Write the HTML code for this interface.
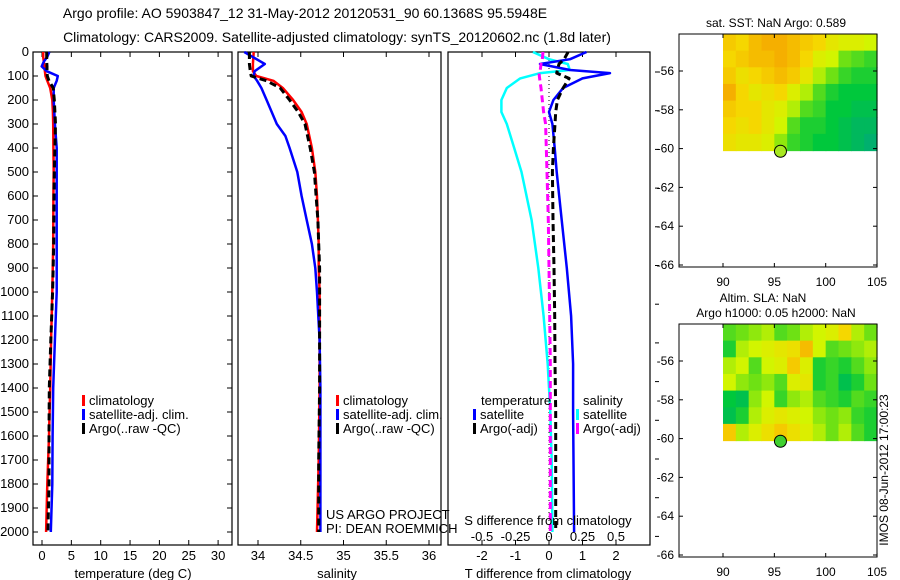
<!DOCTYPE html>
<html><head><meta charset="utf-8">
<style>
html,body{margin:0;padding:0;background:#fff;}
svg{display:block;font-family:"Liberation Sans",sans-serif;}
text{fill:#000;}
</style></head>
<body>
<svg id="fig" width="900" height="580" viewBox="0 0 900 580" xmlns="http://www.w3.org/2000/svg">
<text x="305" y="18" font-size="14" text-anchor="middle">Argo profile: AO 5903847_12 31-May-2012 20120531_90 60.1368S 95.5948E</text>
<text x="337" y="42" font-size="14" text-anchor="middle">Climatology: CARS2009. Satellite-adjusted climatology: synTS_20120602.nc (1.8d later)</text>
<g id="layer"></g>
</svg>
<script>
// ---- data ----
const tDepth = [0,20,40,60,80,100,120,150,200,250,300,400,500,600,800,1000,1200,1400,1600,1800,2000];
const tempClim = [0.2,0.2,0.3,0.4,0.5,0.6,0.9,1.4,1.75,1.85,1.9,1.95,2.0,1.95,1.9,1.75,1.55,1.4,1.2,0.9,0.7];
const tempSat = [1.25,0.9,0.3,-0.05,0.8,2.7,2.5,2.0,2.0,2.1,2.2,2.5,2.5,2.5,2.5,2.5,2.2,1.9,1.8,1.75,1.5];
const tempArgo = [0.8,0.8,0.8,0.85,0.85,0.9,1.2,1.9,2.1,2.2,2.3,2.2,2.1,2.05,2.0,1.8,1.5,1.25,1.2,1.2,1.0];
const sDepth = [0,50,80,100,120,150,200,250,300,350,400,500,600,700,800,900,1000,1200,1400,1700,2000];
const salClim = [33.95,33.94,33.94,33.98,34.18,34.29,34.41,34.51,34.57,34.60,34.63,34.67,34.69,34.70,34.71,34.71,34.72,34.72,34.72,34.71,34.69];
const salSat = [33.84,34.08,33.96,33.95,33.99,34.04,34.10,34.16,34.22,34.32,34.37,34.46,34.51,34.57,34.63,34.67,34.69,34.72,34.73,34.73,34.73];
const salArgo = [33.9,33.9,33.91,33.92,34.1,34.26,34.37,34.47,34.55,34.58,34.61,34.66,34.68,34.70,34.71,34.72,34.72,34.72,34.72,34.71,34.71];
const dDepth = [0,30,50,75,88,110,150,200,250,300,400,500,700,900,1100,1300,1500,1700,2000];
const dTSat = [1.12,0.63,-0.27,0.63,1.82,1.0,0.42,0.13,0.0,0.1,0.17,0.23,0.38,0.53,0.66,0.72,0.72,0.73,0.75];
const dTArgo = [0.57,0.45,0.3,0.25,0.23,0.6,0.42,0.25,0.2,0.18,0.13,0.1,0.12,0.15,0.17,0.18,0.2,0.2,0.2];
const dSSat = [-0.12,0.0,0.14,0.155,-0.065,-0.215,-0.315,-0.355,-0.355,-0.315,-0.26,-0.205,-0.13,-0.08,-0.04,-0.01,0.01,0.02,0.025];
const dSArgo = [-0.045,-0.05,-0.06,-0.065,-0.075,-0.07,-0.06,-0.05,-0.04,-0.025,-0.02,-0.015,-0.005,0.0,0.005,0.01,0.01,0.01,0.01];
const depthTicks = [0,100,200,300,400,500,600,700,800,900,1000,1100,1200,1300,1400,1500,1600,1700,1800,1900,2000];
const tempTicks = [0,5,10,15,20,25,30];
const salTicks = [34,34.5,35,35.5,36];
const dTTicks = [-2,-1,0,1,2];
const dSTicks = [-0.5,-0.25,0,0.25,0.5];
const latTicks = [-56,-58,-60,-62,-64,-66];
const lonTicks = [90,95,100,105];
const sstGrid = [
[.75,.7,.8,.85,.85,.8,.75,.7,.6,.55,.55,.5],
[.7,.75,.8,.8,.85,.8,.7,.55,.5,.35,.3,.25],
[.75,.65,.7,.75,.8,.75,.6,.45,.35,.25,.2,.2],
[.85,.7,.6,.65,.7,.55,.45,.3,.2,.15,.15,.15],
[.75,.7,.7,.6,.55,.45,.3,.25,.15,.15,.1,.1],
[.7,.65,.7,.6,.5,.3,.2,.2,.15,.1,.05,.05],
[.65,.6,.6,.55,.4,.25,.2,.15,.15,.1,.05,0]];
const slaGrid = [
[.3,.35,.4,.45,.3,.35,.45,.5,.55,.7,.45,.35],
[.2,.45,.5,.55,.6,.65,.8,.5,.3,.35,.4,.45],
[.45,.5,.3,.5,.55,.75,.55,.2,.25,.2,.3,.4],
[.5,.4,.35,.4,.3,.55,.6,.2,.25,.1,.2,.35],
[.15,.1,.4,.5,.25,.4,.45,.3,.25,.2,.3,.25],
[.1,.2,.45,.55,.6,.55,.5,.4,.35,.4,.25,.2],
[.75,.45,.55,.65,.75,.65,.55,.45,.35,.45,.3,.2]];
const argoLon = 95.5948, argoLat = -60.1368;

// ---- helpers ----
const NS="http://www.w3.org/2000/svg";
const L=document.getElementById('layer');
function mk(tag,attrs,txt){const e=document.createElementNS(NS,tag);for(const k in attrs)e.setAttribute(k,attrs[k]);if(txt!==undefined)e.textContent=txt;L.appendChild(e);return e;}
const FS=13;
const yD = d => 52 + 0.24*d;
const xT = t => 42 + 5.87*t;
const xS = s => 258 + 85.5*(s-34);
const xDT = v => 549 + 33.5*v;
const xDS = v => 549 + 134*v;

function frame(x0,x1,name){
  const r=mk('rect',{x:x0,y:52,width:x1-x0,height:493,fill:'none',stroke:'#000','stroke-width':1.2});
  
  
}
function series(xs,ds,xf,color,w,dash,name){
  const pts=xs.map((v,i)=>xf(v).toFixed(1)+','+yD(ds[i]).toFixed(1)).join(' ');
  const a={points:pts,fill:'none',stroke:color,'stroke-width':w,'stroke-linejoin':'round'};
  if(dash)a['stroke-dasharray']=dash;
  const p=mk('polyline',a);
  
  
}
function xticks(vals,xf,yLab,name){
  vals.forEach(v=>{
    const x=xf(v);
    mk('line',{x1:x,x2:x,y1:52,y2:57,stroke:'#000'});
    mk('line',{x1:x,x2:x,y1:545,y2:540,stroke:'#000'});
    const t=mk('text',{x:x,y:yLab,'font-size':FS,'text-anchor':'middle'},String(v));
    
    
  });
}
function legendRow(x,y,color,label,name){
  const r=mk('rect',{x:x,y:y-10,width:3,height:11,fill:color});
  
  
  const t=mk('text',{x:x+7,y:y,'font-size':FS},label);
  
  
}

// ---- panel 1: temperature ----
frame(33,232,'temperature-panel');
depthTicks.forEach(d=>{
  const y=yD(d);
  mk('line',{x1:33,x2:38,y1:y,y2:y,stroke:'#000'});
  mk('line',{x1:232,x2:227,y1:y,y2:y,stroke:'#000'});
  const t=mk('text',{x:29,y:y+4,'font-size':FS,'text-anchor':'end'},String(d));
  
  
});
xticks(tempTicks,xT,560,'temperature');
series(tempClim,tDepth,xT,'#ff0000',2.5,null,'temperature-climatology-line');
series(tempSat,tDepth,xT,'#0000ff',2.5,null,'temperature-satellite-line');
series(tempArgo,tDepth,xT,'#000',3,'7,4','temperature-argo-line');
let t1=mk('text',{x:133,y:578,'font-size':FS,'text-anchor':'middle'},'temperature (deg C)');


legendRow(82,405,'#ff0000','climatology','temp-legend-climatology');
legendRow(82,419,'#0000ff','satellite-adj. clim.','temp-legend-satellite');
legendRow(82,433,'#000','Argo(..raw -QC)','temp-legend-argo');

// ---- panel 2: salinity ----
frame(238,441,'salinity-panel');
xticks(salTicks,xS,560,'salinity');
series(salClim,sDepth,xS,'#ff0000',2.5,null,'salinity-climatology-line');
series(salSat,sDepth,xS,'#0000ff',2.5,null,'salinity-satellite-line');
series(salArgo,sDepth,xS,'#000',3,'7,4','salinity-argo-line');
let t2=mk('text',{x:337,y:578,'font-size':FS,'text-anchor':'middle'},'salinity');


legendRow(336,405,'#ff0000','climatology','sal-legend-climatology');
legendRow(336,419,'#0000ff','satellite-adj. clim.','sal-legend-satellite');
legendRow(336,433,'#000','Argo(..raw -QC)','sal-legend-argo');
let u1=mk('text',{x:326,y:519,'font-size':FS},'US ARGO PROJECT');


let u2=mk('text',{x:326,y:533,'font-size':FS},'PI: DEAN ROEMMICH');



// ---- panel 3: differences ----
frame(448,650,'difference-panel');
xticks(dTTicks,xDT,560,'t-difference');
dSTicks.forEach(v=>{
  const t=mk('text',{x:xDS(v),y:541,'font-size':FS,'text-anchor':'middle'},String(v));
  
  
});
let zl=mk('line',{x1:xDT(0),x2:xDT(0),y1:52,y2:545,stroke:'#000','stroke-width':1,'stroke-dasharray':'1,3'});


series(dSSat,dDepth,xDS,'#00ffff',2.5,null,'s-diff-satellite-line');
series(dTSat,dDepth,xDT,'#0000ff',2.5,null,'t-diff-satellite-line');
series(dSArgo,dDepth,xDS,'#ff00ff',3,'7,4','s-diff-argo-line');
series(dTArgo,dDepth,xDT,'#000',3,'7,4','t-diff-argo-line');
let t3=mk('text',{x:548,y:525,'font-size':FS,'text-anchor':'middle'},'S difference from climatology');


let t4=mk('text',{x:548,y:578,'font-size':FS,'text-anchor':'middle'},'T difference from climatology');


let lh1=mk('text',{x:481,y:405,'font-size':FS},'temperature');


let lh2=mk('text',{x:583,y:405,'font-size':FS},'salinity');


legendRow(473,419,'#0000ff','satellite','diff-legend-t-satellite');
legendRow(473,433,'#000','Argo(-adj)','diff-legend-t-argo');
legendRow(576,419,'#00ffff','satellite','diff-legend-s-satellite');
legendRow(576,433,'#ff00ff','Argo(-adj)','diff-legend-s-argo');
for(let y=72;y<560;y+=38.7){mk('line',{x1:655,x2:659,y1:y,y2:y,stroke:'#000'});}

// ---- maps ----
function cmap(v){
  const stops=[[0,[0,176,110]],[0.15,[0,200,60]],[0.35,[110,225,20]],[0.5,[210,245,0]],[0.7,[245,215,0]],[0.85,[245,175,0]],[1,[240,120,0]]];
  for(let i=1;i<stops.length;i++){
    if(v<=stops[i][0]){const a=stops[i-1],b=stops[i];const f=(v-a[0])/(b[0]-a[0]);
      const c=a[1].map((x,k)=>Math.round(x+(b[1][k]-x)*f));return 'rgb('+c.join(',')+')';}
  }
  return 'rgb(240,120,0)';
}
function map(top,grid,dotColor,name){
  const xL = lon => 723 + (lon-90)*10.27;
  const yL = lat => top + 37 + (-56-lat)*19.4;
  const x0=xL(90), x1=877, y0=top, y1=yL(-60.1);
  const nr=grid.length, nc=grid[0].length, cw=(x1-x0)/nc, ch=(y1-y0)/nr;
  grid.forEach((row,r)=>row.forEach((v,c)=>{
    const cell=mk('rect',{x:(x0+c*cw).toFixed(2),y:(y0+r*ch).toFixed(2),width:(cw+0.6).toFixed(2),height:(ch+0.6).toFixed(2),fill:cmap(v)});
    
    
  }));
  const fr=mk('rect',{x:679,y:top,width:198,height:233,fill:'none',stroke:'#000','stroke-width':1});
  
  
  latTicks.forEach(la=>{const y=yL(la);
    mk('line',{x1:679,x2:683,y1:y,y2:y,stroke:'#000'});
    mk('line',{x1:877,x2:873,y1:y,y2:y,stroke:'#000'});
    const t=mk('text',{x:674,y:y+4,'font-size':12,'text-anchor':'end'},String(la));
    
    });
  lonTicks.forEach(lo=>{const x=xL(lo);
    mk('line',{x1:x,x2:x,y1:top,y2:top+4,stroke:'#000'});
    mk('line',{x1:x,x2:x,y1:top+233,y2:top+229,stroke:'#000'});
    const t=mk('text',{x:x,y:top+252,'font-size':12,'text-anchor':'middle'},String(lo));
    
    });
  const d=mk('circle',{cx:xL(argoLon),cy:yL(argoLat),r:6,fill:dotColor,stroke:'#000','stroke-width':1});
  
  
}
map(34,sstGrid,'#a8e820','sst-map');
map(324,slaGrid,'#40d030','sla-map');
let m1=mk('text',{x:776,y:27,'font-size':12,'text-anchor':'middle'},'sat. SST: NaN Argo: 0.589');


let m2=mk('text',{x:763,y:302,'font-size':12,'text-anchor':'middle'},'Altim. SLA: NaN');


let m3=mk('text',{x:776,y:317,'font-size':12,'text-anchor':'middle'},'Argo h1000: 0.05 h2000: NaN');


let ts=mk('text',{x:0,y:0,'font-size':12,'text-anchor':'middle',transform:'translate(888,470) rotate(-90)'},'IMOS 08-Jun-2012 17:00:23');


</script>
</body></html>
